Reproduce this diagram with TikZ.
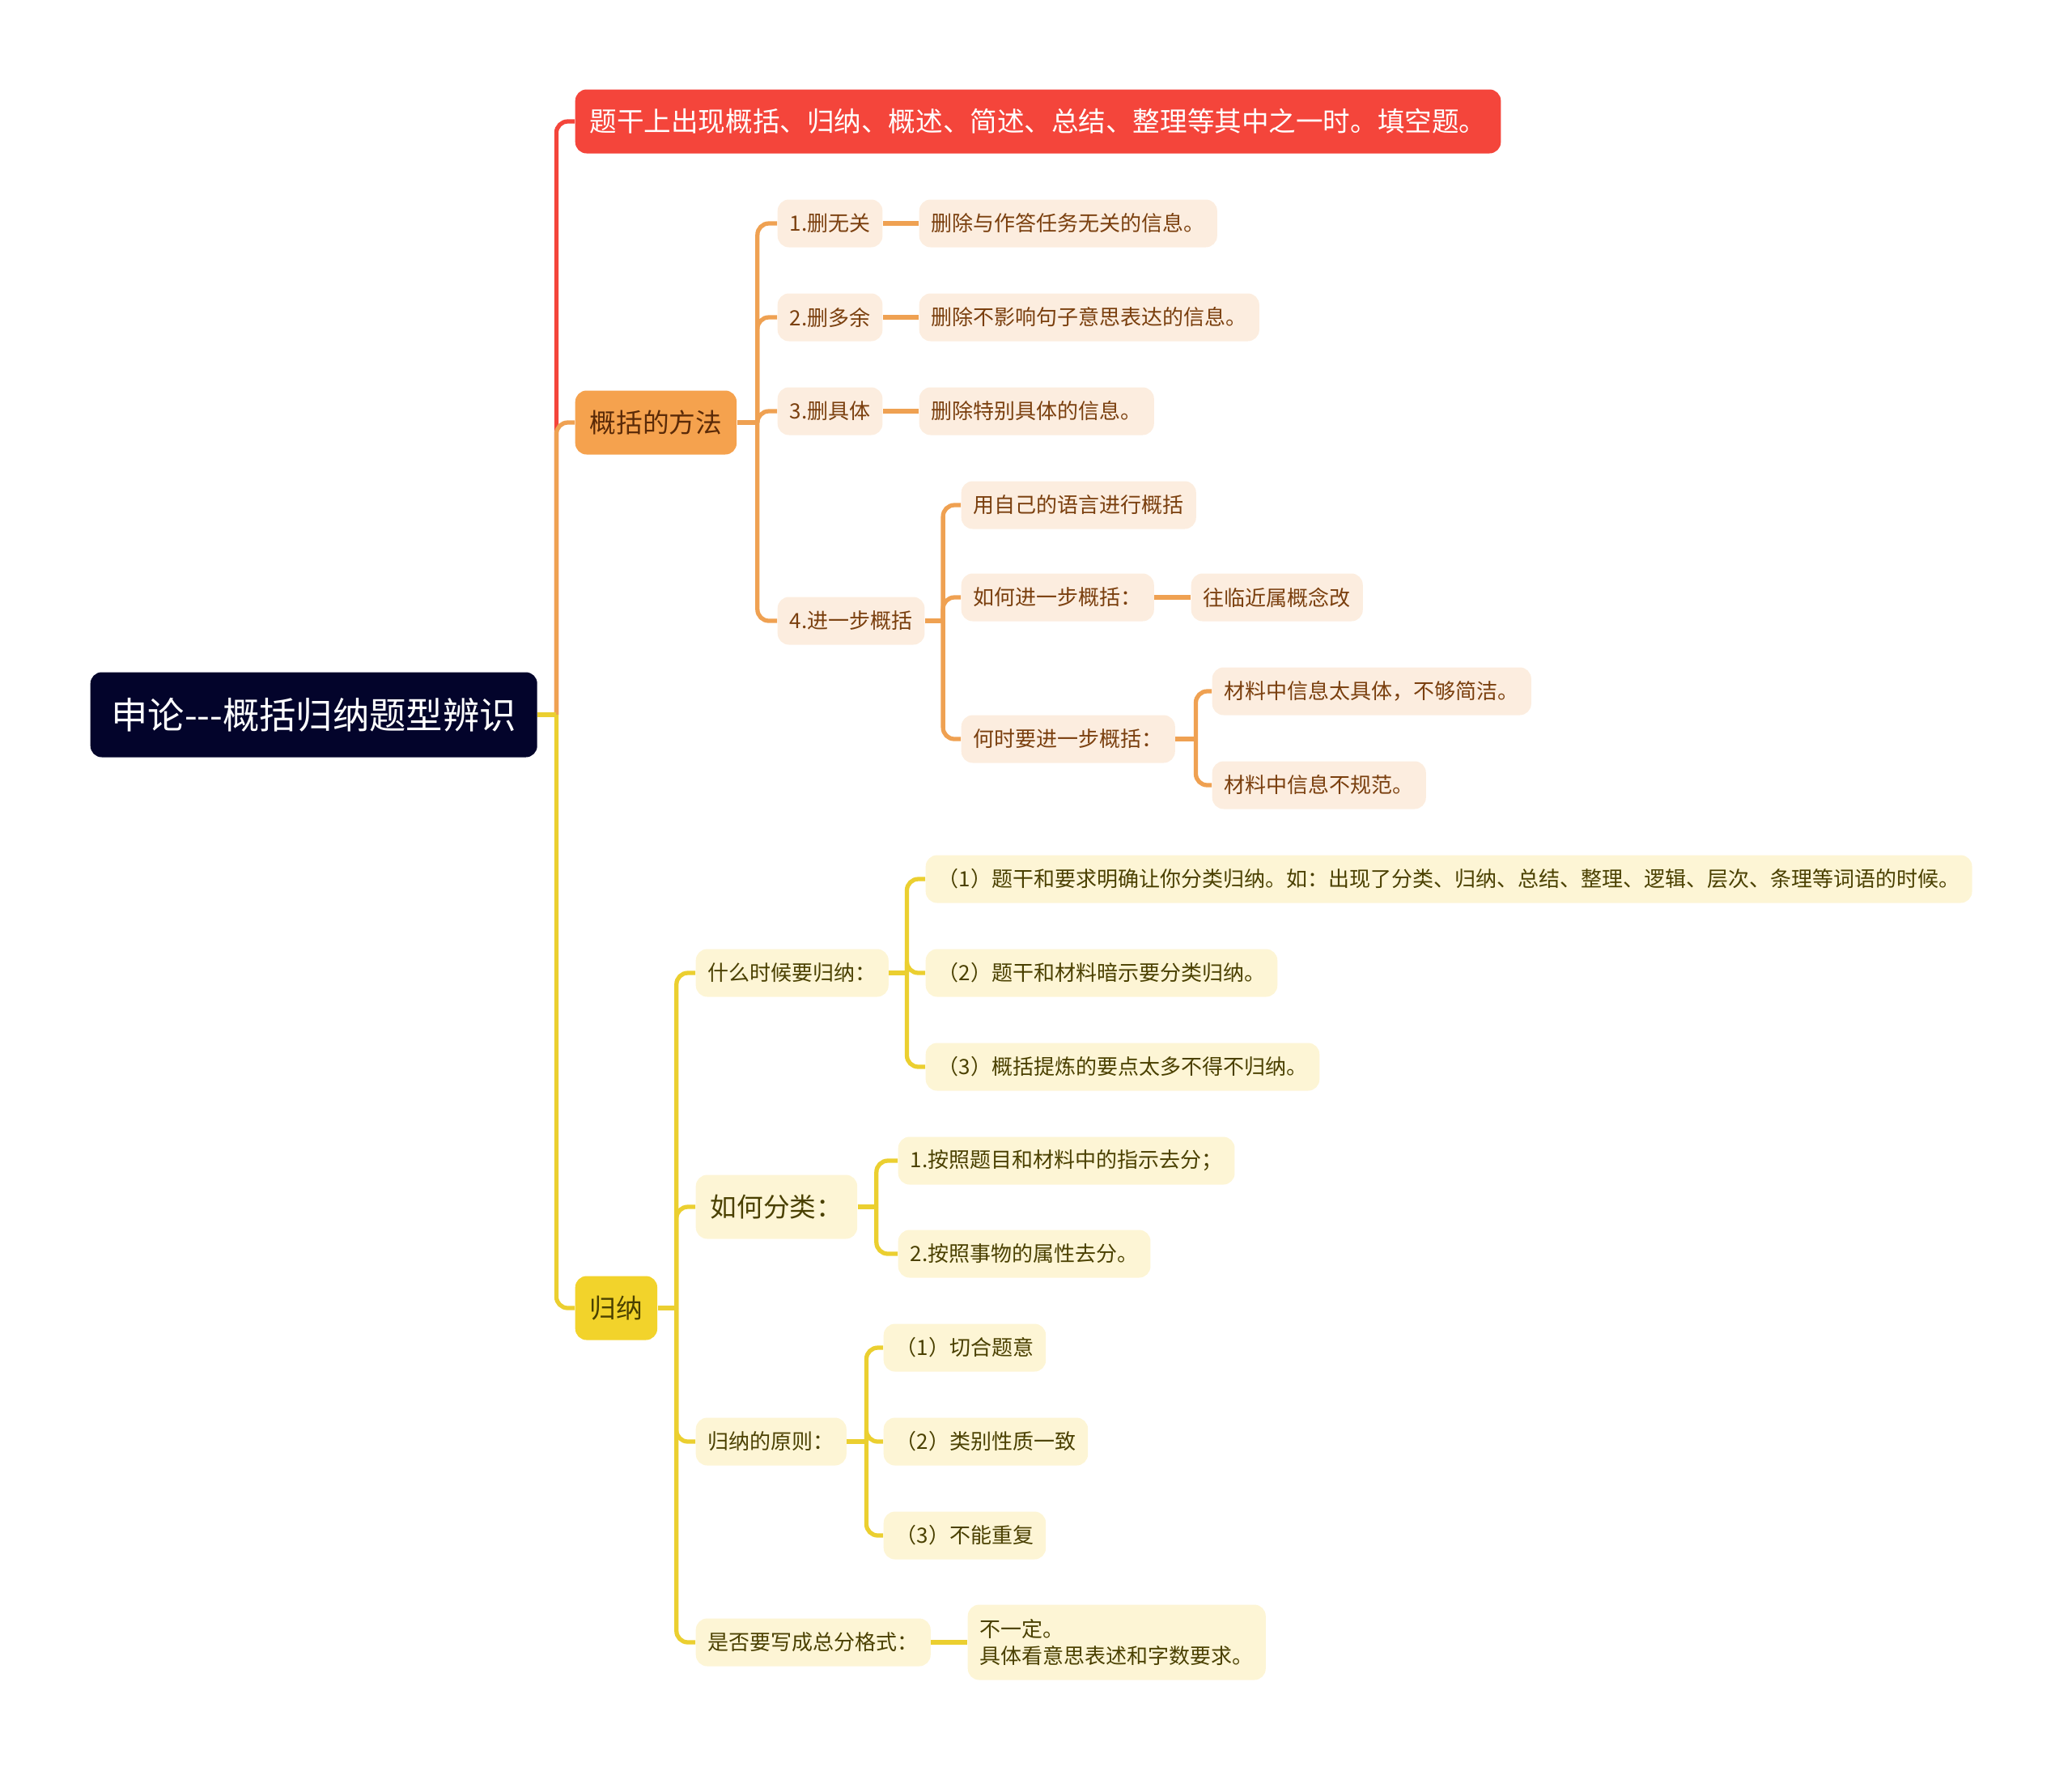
\documentclass[tikz,border=0pt]{standalone}
\usepackage{fontspec}
\newfontfamily\cjkfont{Noto Sans CJK SC}
\definecolor{mmnavy}{HTML}{03042B}
\definecolor{mmred}{HTML}{F4453B}
\definecolor{mmorange}{HTML}{F5A24E}
\definecolor{mmorangeline}{HTML}{EFA152}
\definecolor{mmpeach}{HTML}{FCEDDF}
\definecolor{mmbrown}{HTML}{7A3F0E}
\definecolor{mmdarkbrown}{HTML}{5A2A08}
\definecolor{mmyellow}{HTML}{F2D32B}
\definecolor{mmyellowline}{HTML}{EBCF30}
\definecolor{mmcream}{HTML}{FDF5D5}
\definecolor{mmolive}{HTML}{4A4000}
\usetikzlibrary{positioning,calc}

\begin{document}
\begin{tikzpicture}[
  topic/.style={rounded corners=4pt, minimum height=0.79cm, inner xsep=0.18cm,
    inner ysep=0pt, anchor=west, font=\cjkfont\fontsize{9.3pt}{11pt}\selectfont},
  sub/.style={rounded corners=4pt, minimum height=0.59cm, inner xsep=0.15cm,
    inner ysep=0pt, anchor=west, font=\cjkfont\fontsize{7.4pt}{9.3pt}\selectfont},
  orangesub/.style={sub, fill=mmpeach, text=mmbrown},
  yellowsub/.style={sub, fill=mmcream, text=mmolive},
  link/.style={line width=1.5pt, rounded corners=4pt},
  stub/.style={line width=1.5pt}
]
  \useasboundingbox (0,0) rectangle (25.6,-21.87);

  % Root and first level
  \node[rounded corners=4pt, fill=mmnavy, text=white, minimum width=5.52cm,
    minimum height=1.05cm, anchor=west,
    font=\cjkfont\fontsize{12.9pt}{15pt}\selectfont] (main) at (1.11,-8.83)
    {申论---概括归纳题型辨识};
  \node[topic, fill=mmred, text=white, font=\cjkfont\fontsize{9.55pt}{11pt}\selectfont]
    (cue) at (7.10,-1.50)
    {题干上出现概括、归纳、概述、简述、总结、整理等其中之一时。填空题。};
  \node[topic, fill=mmorange, text=mmdarkbrown] (method) at (7.10,-5.22) {概括的方法};
  \node[topic, fill=mmyellow, text=mmolive] (induce) at (7.10,-16.16) {归纳};

  \coordinate (mainj) at ($(main.east)+(0.23,0)$);
  \draw[link, mmred] (mainj) |- (cue.west);
  \draw[link, mmorangeline] (mainj) |- (method.west);
  \draw[link, mmyellowline] (mainj) |- (induce.west);
  \draw[stub, mmyellowline] (main.east) -- (mainj);

  % Methods of summarising
  \node[orangesub] (del1) at (9.60,-2.76) {1.删无关};
  \node[orangesub] (del2) at (9.60,-3.92) {2.删多余};
  \node[orangesub] (del3) at (9.60,-5.08) {3.删具体};
  \node[orangesub] (further) at (9.60,-7.67) {4.进一步概括};
  \node[orangesub] (del1note) at (11.35,-2.76) {删除与作答任务无关的信息。};
  \node[orangesub] (del2note) at (11.35,-3.92) {删除不影响句子意思表达的信息。};
  \node[orangesub] (del3note) at (11.35,-5.08) {删除特别具体的信息。};
  \node[orangesub] (own) at (11.87,-6.24) {用自己的语言进行概括};
  \node[orangesub] (how) at (11.87,-7.38) {如何进一步概括：};
  \node[orangesub] (howto) at (14.71,-7.38) {往临近属概念改};
  \node[orangesub] (when) at (11.87,-9.13) {何时要进一步概括：};
  \node[orangesub] (concrete) at (14.97,-8.54) {材料中信息太具体，不够简洁。};
  \node[orangesub] (irregular) at (14.97,-9.70) {材料中信息不规范。};

  \coordinate (methodj) at ($(method.east)+(0.25,0)$);
  \draw[stub, mmorangeline] (method.east) -- (methodj);
  \foreach \n in {del1,del2,del3,further}
    \draw[link, mmorangeline] (methodj) |- (\n.west);
  \foreach \a/\b in {del1/del1note,del2/del2note,del3/del3note,how/howto}
    \draw[stub, mmorangeline] (\a.east) -- (\b.west);
  \coordinate (furtherj) at ($(further.east)+(0.22,0)$);
  \draw[stub, mmorangeline] (further.east) -- (furtherj);
  \foreach \n in {own,how,when}
    \draw[link, mmorangeline] (furtherj) |- (\n.west);
  \coordinate (whenj) at ($(when.east)+(0.25,0)$);
  \draw[stub, mmorangeline] (when.east) -- (whenj);
  \foreach \n in {concrete,irregular}
    \draw[link, mmorangeline] (whenj) |- (\n.west);

  % Induction
  \node[yellowsub] (whenind) at (8.59,-12.02) {什么时候要归纳：};
  \node[yellowsub] (w1) at (11.43,-10.86)
    {（1）题干和要求明确让你分类归纳。如：出现了分类、归纳、总结、整理、逻辑、层次、条理等词语的时候。};
  \node[yellowsub] (w2) at (11.43,-12.02) {（2）题干和材料暗示要分类归纳。};
  \node[yellowsub] (w3) at (11.43,-13.18) {（3）概括提炼的要点太多不得不归纳。};
  \node[topic, fill=mmcream, text=mmolive] (classify) at (8.59,-14.91) {如何分类：};
  \node[yellowsub] (c1) at (11.09,-14.34) {1.按照题目和材料中的指示去分；};
  \node[yellowsub] (c2) at (11.09,-15.49) {2.按照事物的属性去分。};
  \node[yellowsub] (rule) at (8.59,-17.81) {归纳的原则：};
  \node[yellowsub] (r1) at (10.91,-16.65) {（1）切合题意};
  \node[yellowsub] (r2) at (10.91,-17.81) {（2）类别性质一致};
  \node[yellowsub] (r3) at (10.91,-18.97) {（3）不能重复};
  \node[yellowsub] (format) at (8.59,-20.29) {是否要写成总分格式：};
  \node[yellowsub, align=left, minimum height=0.93cm] (formatnote) at (11.95,-20.29)
    {不一定。\\具体看意思表述和字数要求。};

  \coordinate (inducej) at ($(induce.east)+(0.23,0)$);
  \draw[stub, mmyellowline] (induce.east) -- (inducej);
  \foreach \n in {whenind,classify,rule,format}
    \draw[link, mmyellowline] (inducej) |- (\n.west);
  \coordinate (whenindj) at ($(whenind.east)+(0.22,0)$);
  \draw[stub, mmyellowline] (whenind.east) -- (whenindj);
  \foreach \n in {w1,w2,w3}
    \draw[link, mmyellowline] (whenindj) |- (\n.west);
  \coordinate (classifyj) at ($(classify.east)+(0.23,0)$);
  \draw[stub, mmyellowline] (classify.east) -- (classifyj);
  \foreach \n in {c1,c2}
    \draw[link, mmyellowline] (classifyj) |- (\n.west);
  \coordinate (rulej) at ($(rule.east)+(0.24,0)$);
  \draw[stub, mmyellowline] (rule.east) -- (rulej);
  \foreach \n in {r1,r2,r3}
    \draw[link, mmyellowline] (rulej) |- (\n.west);
  \draw[stub, mmyellowline] (format.east) -- (formatnote.west);
\end{tikzpicture}
\end{document}
